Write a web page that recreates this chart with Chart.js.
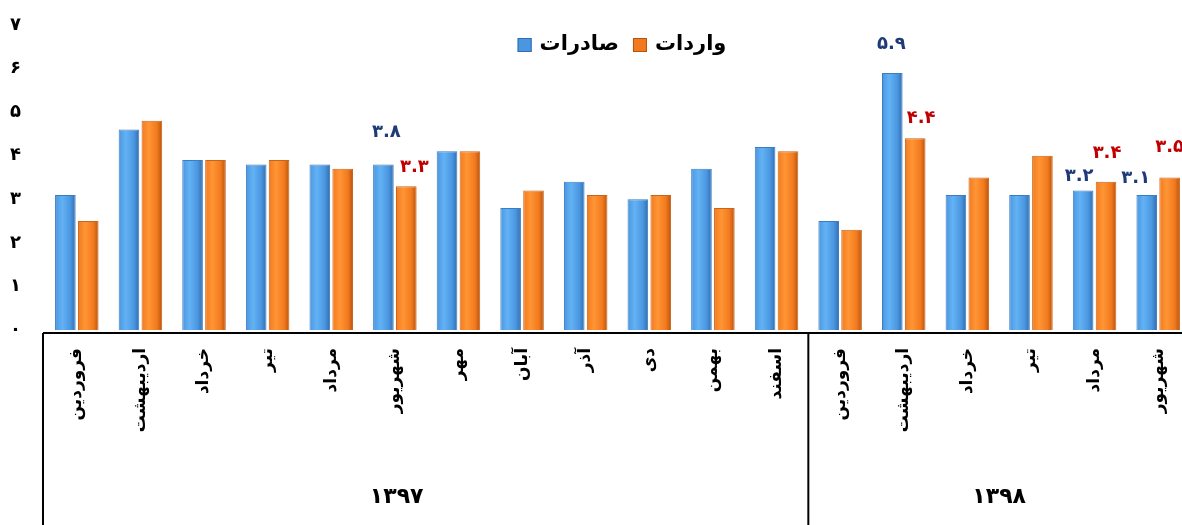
<!DOCTYPE html>
<html>
<head>
<meta charset="utf-8">
<script src="https://cdn.jsdelivr.net/npm/chart.js@4.4.1/dist/chart.umd.min.js"></script>
<style>
  html, body { margin: 0; padding: 0; background: #fff; overflow: hidden; }
  #wrap { width: 1182px; height: 525px; overflow: hidden; }
</style>
</head>
<body>
<div id="wrap"><canvas id="c" width="1190" height="525"></canvas></div>
<script>
// month names, left to right as in the picture
const months = ['فروردین', 'اردیبهشت', 'خرداد', 'تیر', 'مرداد', 'شهریور', 'مهر', 'آبان', 'آذر', 'دی', 'بهمن', 'اسفند',
                'فروردین', 'اردیبهشت', 'خرداد', 'تیر', 'مرداد', 'شهریور'];
const years = ['۱۳۹۷', '۱۳۹۸'];
const yearSpans = [12, 6];

const exportsData = [3.1, 4.6, 3.9, 3.8, 3.8, 3.8, 4.1, 2.8, 3.4, 3.0, 3.7, 4.2, 2.5, 5.9, 3.1, 3.1, 3.2, 3.1];
const importsData = [2.5, 4.8, 3.9, 3.9, 3.7, 3.3, 4.1, 3.2, 3.1, 3.1, 2.8, 4.1, 2.3, 4.4, 3.5, 4.0, 3.4, 3.5];
const seriesNames = ['صادرات', 'واردات'];

// bars that carry a value label
const labeledIdx = [5, 13, 16, 17];

const yMin = 0, yMax = 7, yStep = 1;

// styling
const FONT = "'DejaVu Sans', sans-serif";
const solidColors = ['#4A96E0', '#F27A1E'];
const edgeColors = ['#2F6DB0', '#B9520B'];
const labelColors = ['#1F3A78', '#C00000'];
const labelShift = [
  [[3, -32], [-1, -29], [-4, -14], [-11, -17]],
  [[8, -19], [6, -20], [1, -29], [0, -30]]
];

const faDigits = '۰۱۲۳۴۵۶۷۸۹';
function toFa(v) {
  return String(v).replace(/[0-9]/g, d => faDigits[+d]);
}

function barFill(light, dark, mid) {
  return function (ctx) {
    const el = ctx.element;
    if (!el || el.x == null || !isFinite(el.x)) return mid;
    const w = el.width || 20;
    const g = ctx.chart.ctx.createLinearGradient(el.x - w / 2, 0, el.x + w / 2, 0);
    g.addColorStop(0, mid);
    g.addColorStop(0.35, light);
    g.addColorStop(0.75, mid);
    g.addColorStop(1, dark);
    return g;
  };
}

const frame = {
  id: 'frame',
  afterDraw(chart) {
    const c = chart.ctx;
    const x = chart.scales.x;
    const area = chart.chartArea;
    const top = area.bottom + 3;
    const bottom = chart.height;
    c.save();
    c.strokeStyle = '#000';
    c.lineWidth = 2;
    c.beginPath();
    c.moveTo(area.left - 2, top);
    c.lineTo(chart.width, top);
    c.moveTo(area.left - 2, top);
    c.lineTo(area.left - 2, bottom);
    // separators and year names
    let start = 0;
    c.fillStyle = '#000';
    c.font = 'bold 22px ' + FONT;
    c.textAlign = 'center';
    c.textBaseline = 'middle';
    yearSpans.forEach((n, i) => {
      const end = start + n - 1;
      const x0 = x.getPixelForTick(start);
      const x1 = x.getPixelForTick(end);
      if (end < months.length - 1) {
        const sep = (x1 + x.getPixelForTick(end + 1)) / 2;
        c.moveTo(sep, top);
        c.lineTo(sep, bottom);
      }
      c.fillText(years[i], (x0 + x1) / 2 - (i === 0 ? 30 : 0), 497);
      start += n;
    });
    c.stroke();

    // value labels
    c.font = 'bold 18px ' + FONT;
    [0, 1].forEach(d => {
      const meta = chart.getDatasetMeta(d);
      c.fillStyle = labelColors[d];
      labeledIdx.forEach((idx, k) => {
        const bar = meta.data[idx];
        const v = chart.data.datasets[d].data[idx];
        const s = labelShift[d][k];
        c.fillText(toFa(v.toFixed(1)), bar.x + s[0], bar.y + s[1]);
      });
    });

    // legend: box then name, blue first
    c.font = 'bold 21px ' + FONT;
    c.direction = 'rtl';
    const names = chart.data.datasets.map(ds => ds.label);
    const widths = names.map(t => c.measureText(t).width);
    const box = 14, gapIn = 8, gapOut = 14;
    const total = widths.reduce((a, w) => a + box + gapIn + w, 0) + gapOut;
    let lx = 622 - total / 2;
    const ly = 45;
    names.forEach((t, i) => {
      c.fillStyle = solidColors[i];
      c.fillRect(lx, ly - box / 2, box, box);
      c.strokeStyle = edgeColors[i];
      c.lineWidth = 1;
      c.strokeRect(lx + 0.5, ly - box / 2 + 0.5, box - 1, box - 1);
      lx += box + gapIn;
      c.fillStyle = '#000';
      c.textAlign = 'right';
      c.fillText(t, lx + widths[i], ly);
      lx += widths[i] + gapOut;
    });
    c.restore();
  }
};

const chart = new Chart(document.getElementById('c'), {
  type: 'bar',
  data: {
    labels: months,
    datasets: [
      {
        label: seriesNames[0],
        data: exportsData,
        backgroundColor: barFill('#63B2F4', edgeColors[0], solidColors[0]),
        borderColor: '#3C7CC0',
        borderWidth: 1,
        categoryPercentage: 0.72,
        barPercentage: 0.9
      },
      {
        label: seriesNames[1],
        data: importsData,
        backgroundColor: barFill('#FF9535', edgeColors[1], solidColors[1]),
        borderColor: '#C8641C',
        borderWidth: 1,
        categoryPercentage: 0.72,
        barPercentage: 0.9
      }
    ]
  },
  options: {
    responsive: false,
    animation: false,
    layout: { padding: { top: 25, right: 0, left: 0, bottom: 0 } },
    plugins: {
      tooltip: { enabled: false },
      legend: { display: false }
    },
    scales: {
      x: {
        grid: { display: false, drawTicks: false },
        border: { display: false },
        ticks: {
          autoSkip: false,
          minRotation: 90,
          maxRotation: 90,
          padding: 18,
          color: '#000',
          font: { family: FONT, size: 17, weight: 'bold' }
        },
        afterFit(scale) {
          scale.height = 195;
          scale.paddingLeft = 0;
          scale.paddingRight = 0;
        }
      },
      y: {
        min: yMin,
        max: yMax,
        grid: { display: false, drawTicks: false },
        border: { display: false },
        ticks: {
          stepSize: yStep,
          padding: 24,
          color: '#000',
          font: { family: FONT, size: 18, weight: 'bold' },
          callback: v => toFa(v)
        },
        afterFit(scale) {
          scale.width = 45;
          scale.paddingTop = 0;
          scale.paddingBottom = 0;
        }
      }
    }
  },
  plugins: [frame]
});
chart.update('none');
</script>
</body>
</html>
